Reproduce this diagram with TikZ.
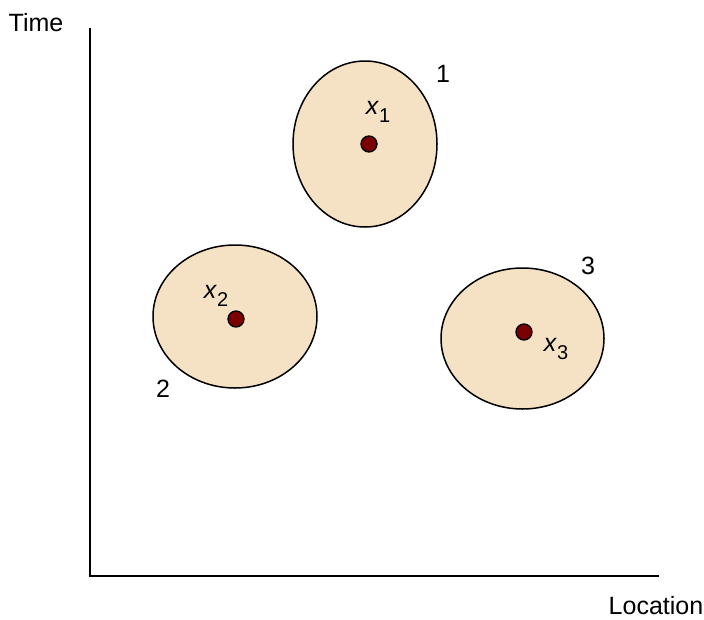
\documentclass[tikz,border=0pt]{standalone}
\usepackage{fontspec}
\setmainfont{Liberation Sans}
\newcommand{\subx}[1]{\textit{x}\raisebox{-0.3em}{\fontsize{20}{22}\selectfont #1}}
\begin{document}
\begin{tikzpicture}[x=1pt,y=-1pt,
  region/.style={draw=black,line width=1.5pt,fill=regionfill},
  pt/.style={circle,draw=black,line width=1.3pt,fill=ptfill,minimum size=16pt,inner sep=0pt},
  lbl/.style={font=\fontsize{25}{28}\selectfont,inner sep=0pt},
  axis/.style={line width=1.5pt}]
\definecolor{regionfill}{HTML}{F5E2C5}
\definecolor{ptfill}{HTML}{7A0000}
\useasboundingbox (0,0) rectangle (704,619);
\coordinate (top) at (90,28);
\coordinate (origin) at (90,576);
\coordinate (right) at (659,576);
\draw[axis] (top) -- (origin) -- (right);
\node[lbl] (time) at (36,23) {Time};
\node[lbl] (loc) at (656,606) {Location};
\draw[region] (365,144) ellipse [x radius=72, y radius=83];
\draw[region] (235,316.5) ellipse [x radius=82, y radius=71.5];
\draw[region] (522.5,338.5) ellipse [x radius=81.5, y radius=70.5];
\node[pt] (p1) at (369,144) {};
\node[pt] (p2) at (236,319) {};
\node[pt] (p3) at (524,332) {};
\node[lbl] (x1) at (378,112) {\subx{1}};
\node[lbl] (x2) at (216,296) {\subx{2}};
\node[lbl] (x3) at (556,349) {\subx{3}};
\node[lbl] (n1) at (443,74) {1};
\node[lbl] (n2) at (163,389) {2};
\node[lbl] (n3) at (588,266) {3};
\end{tikzpicture}
\end{document}
